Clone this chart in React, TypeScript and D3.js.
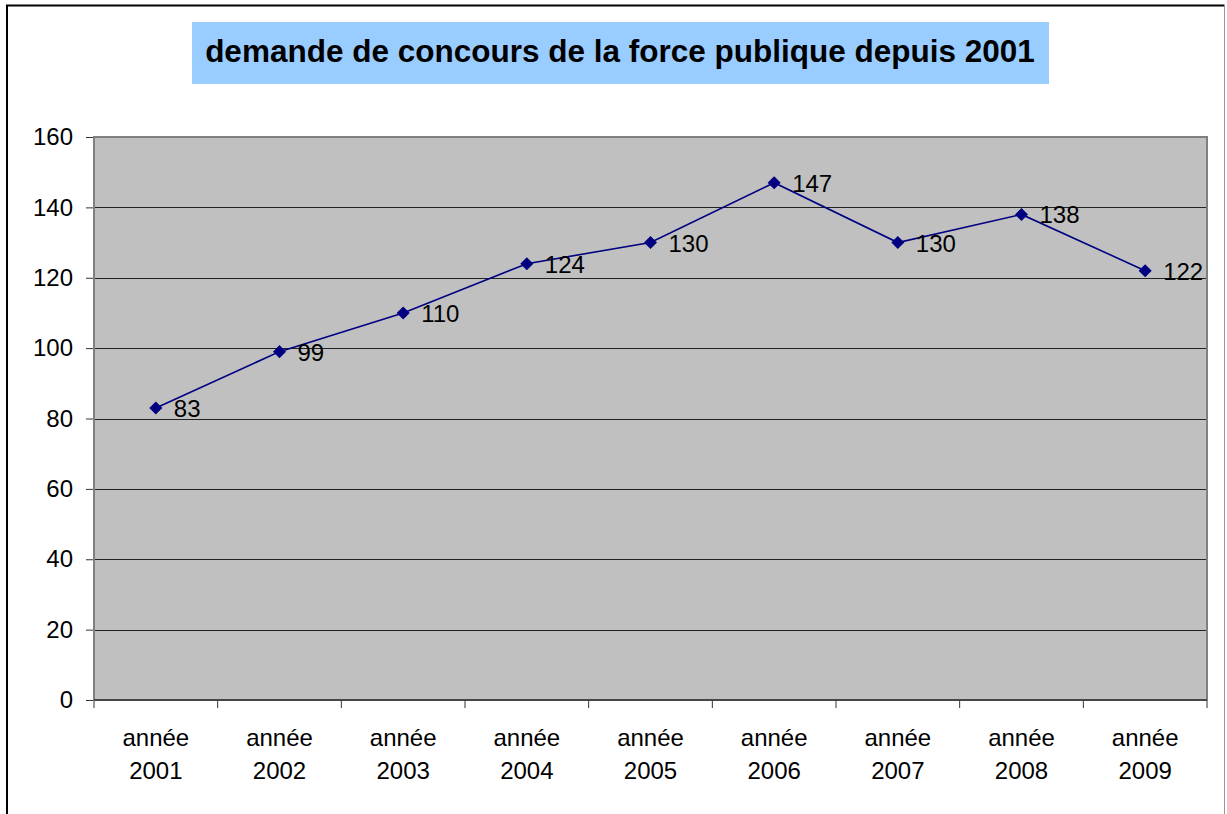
import { useEffect, useRef } from "react";
import * as d3 from "d3";

// chart data
const years = ["2001", "2002", "2003", "2004", "2005", "2006", "2007", "2008", "2009"];
const values = [83, 99, 110, 124, 130, 147, 130, 138, 122];
const yTicks = [0, 20, 40, 60, 80, 100, 120, 140, 160];
const title = "demande de concours de la force publique depuis 2001";

const FONT = "Arial, 'Liberation Sans', sans-serif";

export default function App() {
  const ref = useRef<SVGSVGElement>(null);

  useEffect(() => {
    const W = 1227;
    const H = 814;
    const left = 94, right = 1207, top = 137, bottom = 700;

    const svg = d3.select(ref.current);
    svg.selectAll("*").remove();
    svg.style("font-family", FONT);

    // outer chart frame
    svg.append("rect").attr("x", 0).attr("y", 0).attr("width", W).attr("height", H).attr("fill", "#fff");
    svg.append("path")
      .attr("d", `M7,${H + 5} V5.5 H1224.5`)
      .attr("fill", "none")
      .attr("stroke", "#000")
      .attr("stroke-width", 2);
    svg.append("line").attr("x1", 1224.5).attr("x2", 1224.5).attr("y1", 6).attr("y2", H)
      .attr("stroke", "#999").attr("stroke-width", 1);

    // title box
    svg.append("rect").attr("x", 192).attr("y", 22).attr("width", 857).attr("height", 62).attr("fill", "#99ccff");
    svg.append("text")
      .attr("x", 620).attr("y", 62)
      .attr("text-anchor", "middle")
      .attr("font-size", 31.5)
      .attr("font-weight", "bold")
      .attr("fill", "#000")
      .text(title);

    const x = d3.scaleBand().domain(years).range([left, right]);
    const y = d3.scaleLinear().domain([0, 160]).range([bottom, top]);

    // plot background
    svg.append("rect").attr("x", left).attr("y", top).attr("width", right - left).attr("height", bottom - top)
      .attr("fill", "#c0c0c0");

    // gridlines
    svg.append("g").selectAll("line").data(yTicks.slice(1)).join("line")
      .attr("x1", left).attr("x2", right)
      .attr("y1", (d) => Math.round(y(d)) + 0.5).attr("y2", (d) => Math.round(y(d)) + 0.5)
      .attr("stroke", "#222").attr("stroke-width", 1);

    // y axis
    const yAxis = svg.append("g").attr("transform", `translate(${left},0)`)
      .call(d3.axisLeft(y).tickValues(yTicks).tickSize(8).tickPadding(13));
    yAxis.attr("font-size", null).attr("font-family", null);
    yAxis.select(".domain").remove();
    yAxis.selectAll("line").attr("stroke", "#333");
    yAxis.selectAll("text")
      .style("font-size", "24px")
      .style("font-family", FONT)
      .attr("fill", "#000");

    // x axis ticks at category boundaries
    const bounds = years.map((d) => x(d)!).concat([right]);
    svg.append("g").selectAll("line").data(bounds).join("line")
      .attr("x1", (d) => d).attr("x2", (d) => d)
      .attr("y1", bottom).attr("y2", bottom + 8)
      .attr("stroke", "#333");

    const cx = (d: string) => x(d)! + x.bandwidth() / 2;
    const xl = svg.append("g").selectAll("text").data(years).join("text")
      .attr("text-anchor", "middle")
      .style("font-size", "24px")
      .attr("fill", "#000");
    xl.append("tspan").attr("x", cx).attr("y", 746).text("année");
    xl.append("tspan").attr("x", cx).attr("y", 779).text((d) => d);

    const px = (i: number) => cx(years[i]);

    // line
    const line = d3.line<number>().x((_, i) => px(i)).y((d) => y(d));
    svg.append("path").datum(values).attr("d", line)
      .attr("fill", "none").attr("stroke", "#000080").attr("stroke-width", 1.6);

    // markers (diamonds)
    svg.append("g").selectAll("path").data(values).join("path")
      .attr("d", d3.symbol(d3.symbolSquare, 85)() as string)
      .attr("transform", (d, i) => `translate(${px(i)},${y(d)}) rotate(45)`)
      .attr("fill", "#000080");

    // value labels
    svg.append("g").selectAll("text").data(values).join("text")
      .attr("x", (_, i) => px(i) + 18)
      .attr("y", (d) => y(d) + 9)
      .style("font-size", "24px")
      .attr("fill", "#000")
      .text((d) => d);

    // plot border
    svg.append("rect").attr("x", left).attr("y", top).attr("width", right - left).attr("height", bottom - top)
      .attr("fill", "none").attr("stroke", "#808080").attr("stroke-width", 2);
    svg.append("line").attr("x1", left).attr("x2", right).attr("y1", bottom).attr("y2", bottom)
      .attr("stroke", "#333").attr("stroke-width", 1.5);
  }, []);

  return (
    <svg ref={ref} width={1227} height={814} style={{ position: "absolute", left: 0, top: 0 }} />
  );
}
